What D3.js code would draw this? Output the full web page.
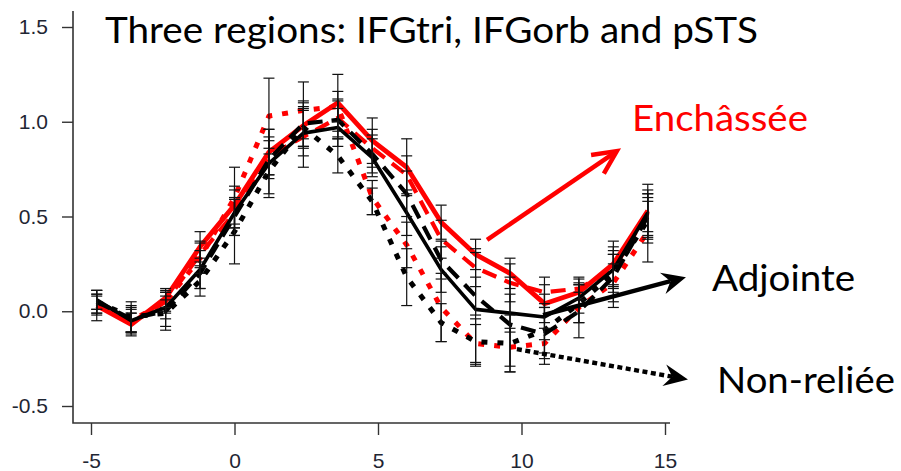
<!DOCTYPE html>
<html>
<head>
<meta charset="utf-8">
<script src="https://cdn.jsdelivr.net/npm/d3@7"></script>
<style>
  html, body { margin: 0; padding: 0; background: #fff; }
  svg { display: block; }
</style>
</head>
<body>
<svg id="chart" width="901" height="471"></svg>
<script>
// Scan times (s) relative to onset
const times = [-4.8, -3.6, -2.4, -1.2, 0, 1.2, 2.4, 3.6, 4.8, 6.0, 7.2, 8.4, 9.6, 10.8, 12.0, 13.2, 14.4];

// Mean signal per condition
const redSolid    = [0.03, -0.07, 0.07, 0.34, 0.56, 0.84, 0.98, 1.10, 0.90, 0.76, 0.47, 0.30, 0.20, 0.04, 0.10, 0.25, 0.53];
const redDashed   = [0.04, -0.06, 0.05, 0.30, 0.52, 0.82, 0.92, 1.02, 0.86, 0.72, 0.38, 0.23, 0.15, 0.10, 0.12, 0.22, 0.52];
const redDotted   = [0.03, -0.05, 0.05, 0.28, 0.60, 1.03, 1.06, 1.08, 0.60, 0.35, 0.02, -0.17, -0.19, -0.17, 0.02, 0.15, 0.42];
const blackSolid  = [0.06, -0.05, 0.02, 0.22, 0.52, 0.78, 0.94, 0.97, 0.81, 0.52, 0.22, 0.01, -0.01, -0.03, 0.07, 0.22, 0.52];
const blackDashed = [0.05, -0.04, 0.00, 0.20, 0.50, 0.80, 0.99, 1.01, 0.83, 0.62, 0.27, 0.08, -0.07, -0.12, 0.00, 0.18, 0.50];
const blackDotted = [0.05, -0.03, -0.01, 0.16, 0.42, 0.74, 0.97, 0.82, 0.58, 0.18, -0.06, -0.16, -0.17, -0.10, 0.04, 0.20, 0.48];

// Standard errors
const seRedSolid    = [0.05, 0.06, 0.05, 0.08, 0.10, 0.12, 0.12, 0.15, 0.12, 0.15, 0.09, 0.08, 0.08, 0.10, 0.07, 0.12, 0.14];
const seRedDashed   = [0.05, 0.05, 0.06, 0.07, 0.08, 0.10, 0.16, 0.10, 0.10, 0.10, 0.10, 0.10, 0.10, 0.08, 0.06, 0.10, 0.12];
const seRedDotted   = [0.08, 0.06, 0.05, 0.08, 0.16, 0.20, 0.15, 0.08, 0.09, 0.12, 0.18, 0.10, 0.10, 0.08, 0.08, 0.10, 0.16];
const seBlackSolid  = [0.05, 0.07, 0.06, 0.10, 0.12, 0.18, 0.12, 0.10, 0.10, 0.12, 0.12, 0.30, 0.10, 0.12, 0.08, 0.08, 0.10];
const seBlackDashed = [0.04, 0.07, 0.10, 0.08, 0.10, 0.10, 0.12, 0.10, 0.10, 0.12, 0.10, 0.10, 0.25, 0.16, 0.14, 0.16, 0.12];
const seBlackDotted = [0.06, 0.08, 0.07, 0.08, 0.17, 0.12, 0.10, 0.09, 0.07, 0.15, 0.10, 0.12, 0.15, 0.12, 0.10, 0.10, 0.12];

const xTicks = [-5, 0, 5, 10, 15];
const yTicks = [-0.5, 0.0, 0.5, 1.0, 1.5];

const titleText = "Three regions: IFGtri, IFGorb and pSTS";
const labelEmbedded = "Enchâssée";
const labelAdjoined = "Adjointe";
const labelUnrelated = "Non-reliée";

const series = [
  { values: redSolid,    se: seRedSolid,    color: "#ff0000", width: 4.8, dash: null },
  { values: redDashed,   se: seRedDashed,   color: "#ff0000", width: 4.2, dash: "15,9" },
  { values: redDotted,   se: seRedDotted,   color: "#ff0000", width: 5,   dash: "6,10" },
  { values: blackSolid,  se: seBlackSolid,  color: "#000000", width: 3.6, dash: null },
  { values: blackDashed, se: seBlackDashed, color: "#000000", width: 4.2, dash: "15,9" },
  { values: blackDotted, se: seBlackDotted, color: "#000000", width: 5,   dash: "6,10" }
];

const svg = d3.select("#chart");

const x = d3.scaleLinear().domain([-5, 15]).range([91, 665]);
const y = d3.scaleLinear().domain([-0.5, 1.5]).range([406, 27]);

// plot frame extent (R-style padding beyond the tick range)
const frameX = [x.invert(73), x.invert(670)];
const frameY = [y.invert(423), y.invert(11)];

const axisColor = "#333";
const tickTextColor = "#1f2633";
// plain hyphen for negative numbers
const hyphen = f => d => f(d).replace("\u2212", "-");

// L-shaped frame
svg.append("path")
  .attr("d", `M${x(frameX[0])},${y(frameY[1])} L${x(frameX[0])},${y(frameY[0])} L${x(frameX[1])},${y(frameY[0])}`)
  .attr("fill", "none").attr("stroke", axisColor).attr("stroke-width", 1.6);

// y axis
const yAxis = d3.axisLeft(y).tickValues(yTicks).tickFormat(hyphen(d3.format(".1f"))).tickSize(11).tickPadding(4);
const gy = svg.append("g").attr("transform", `translate(${x(frameX[0])},0)`).call(yAxis);
gy.select(".domain").remove();
gy.selectAll(".tick line").attr("stroke", axisColor).attr("stroke-width", 1.4);
gy.selectAll(".tick text")
  .attr("font-family", "'Liberation Sans', Arial, sans-serif")
  .attr("font-size", 21).attr("fill", tickTextColor)
  .attr("x", -25);

// x axis
const xAxis = d3.axisBottom(x).tickValues(xTicks).tickFormat(hyphen(d3.format("d"))).tickSize(12).tickPadding(18);
const gx = svg.append("g").attr("transform", `translate(0,${y(frameY[0])})`).call(xAxis);
gx.select(".domain").remove();
gx.selectAll(".tick line").attr("stroke", axisColor).attr("stroke-width", 1.4);
gx.selectAll(".tick text")
  .attr("font-family", "'Liberation Sans', Arial, sans-serif")
  .attr("font-size", 21).attr("fill", tickTextColor);

// series lines
const line = d3.line().x((d, i) => x(times[i])).y(d => y(d));
const lineLayer = svg.append("g");
series.forEach(s => {
  lineLayer.append("path")
    .datum(s.values)
    .attr("d", line)
    .attr("fill", "none")
    .attr("stroke", s.color)
    .attr("stroke-width", s.width)
    .attr("stroke-linejoin", "round")
    .attr("stroke-dasharray", s.dash);
});

// error bars (mean ± SE)
const errLayer = svg.append("g").attr("stroke", "#111").attr("stroke-width", 1.2);
const capHalf = 5.5;
series.forEach(s => {
  s.values.forEach((v, i) => {
    const cx = x(times[i]);
    const top = y(v + s.se[i]);
    const bot = y(v - s.se[i]);
    errLayer.append("line").attr("x1", cx).attr("x2", cx).attr("y1", top).attr("y2", bot);
    errLayer.append("line").attr("x1", cx - capHalf).attr("x2", cx + capHalf).attr("y1", top).attr("y2", top);
    errLayer.append("line").attr("x1", cx - capHalf).attr("x2", cx + capHalf).attr("y1", bot).attr("y2", bot);
  });
});

// annotation arrows (in data units)
const arrowEmbedded = { from: [8.8, 0.377], to: [13.32, 0.845] };
const arrowAdjoined = { from: [10.75, -0.02], to: [15.73, 0.18] };
const arrowUnrelated = { from: [9.84, -0.20], to: [15.8, -0.36] };

function arrowGeom(a) {
  const x1 = x(a.from[0]), y1 = y(a.from[1]), x2 = x(a.to[0]), y2 = y(a.to[1]);
  const ang = Math.atan2(y2 - y1, x2 - x1);
  return { x1, y1, x2, y2, ang };
}

// open V head (red)
{
  const g = arrowGeom(arrowEmbedded);
  const len = 26, spread = 0.45;
  svg.append("line")
    .attr("x1", g.x1).attr("y1", g.y1)
    .attr("x2", g.x2 - 3 * Math.cos(g.ang)).attr("y2", g.y2 - 3 * Math.sin(g.ang))
    .attr("stroke", "#ff0000").attr("stroke-width", 4.5);
  const p1 = [g.x2 - len * Math.cos(g.ang - spread), g.y2 - len * Math.sin(g.ang - spread)];
  const p2 = [g.x2 - len * Math.cos(g.ang + spread), g.y2 - len * Math.sin(g.ang + spread)];
  svg.append("path")
    .attr("d", `M${p1[0]},${p1[1]} L${g.x2},${g.y2} L${p2[0]},${p2[1]}`)
    .attr("fill", "none").attr("stroke", "#ff0000").attr("stroke-width", 4.5)
    .attr("stroke-linejoin", "miter");
}

// filled stealth heads (black)
function stealthArrow(a, dash) {
  const g = arrowGeom(a);
  const len = 24, half = 11, notch = 8;
  const ux = Math.cos(g.ang), uy = Math.sin(g.ang);
  const nx = -uy, ny = ux;
  svg.append("line")
    .attr("x1", g.x1).attr("y1", g.y1)
    .attr("x2", g.x2 - (len - notch) * ux).attr("y2", g.y2 - (len - notch) * uy)
    .attr("stroke", "#000").attr("stroke-width", 4.4)
    .attr("stroke-dasharray", dash);
  const back = [g.x2 - len * ux, g.y2 - len * uy];
  const inner = [g.x2 - (len - notch) * ux, g.y2 - (len - notch) * uy];
  svg.append("path")
    .attr("d", `M${g.x2},${g.y2} L${back[0] + half * nx},${back[1] + half * ny} L${inner[0]},${inner[1]} L${back[0] - half * nx},${back[1] - half * ny} Z`)
    .attr("fill", "#000");
}
stealthArrow(arrowAdjoined, null);
stealthArrow(arrowUnrelated, "5,3.5");

// text
const textFont = "Lato, 'Open Sans', sans-serif";
svg.append("text").text(titleText)
  .attr("x", 105).attr("y", 43)
  .attr("font-family", textFont).attr("font-size", 37).attr("fill", "#000")
  .attr("textLength", 653).attr("lengthAdjust", "spacingAndGlyphs");

svg.append("text").text(labelEmbedded)
  .attr("x", 632).attr("y", 131)
  .attr("font-family", textFont).attr("font-size", 37).attr("fill", "#ff0000")
  .attr("textLength", 176).attr("lengthAdjust", "spacingAndGlyphs");

svg.append("text").text(labelAdjoined)
  .attr("x", 712).attr("y", 291)
  .attr("font-family", textFont).attr("font-size", 37).attr("fill", "#000")
  .attr("textLength", 143).attr("lengthAdjust", "spacingAndGlyphs");

svg.append("text").text(labelUnrelated)
  .attr("x", 717).attr("y", 393)
  .attr("font-family", textFont).attr("font-size", 37).attr("fill", "#000")
  .attr("textLength", 178).attr("lengthAdjust", "spacingAndGlyphs");
</script>
</body>
</html>
